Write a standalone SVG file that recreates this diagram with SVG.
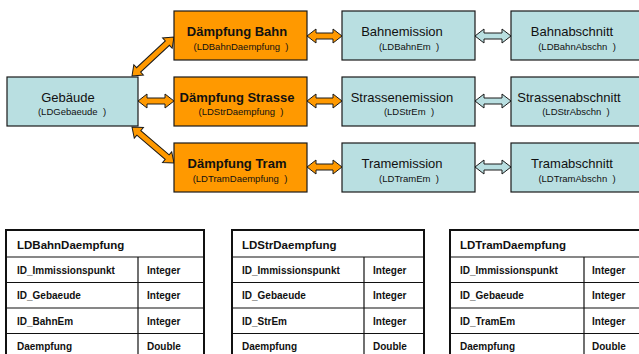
<svg xmlns="http://www.w3.org/2000/svg" width="639" height="354" viewBox="0 0 639 354">
<style>
.bg{fill:#ffffff}
.or{fill:#FF9900;stroke:#1a1a1a;stroke-width:1.2}
.bl{fill:#B9DFE1;stroke:#1a1a1a;stroke-width:1.2}
.t{font-family:"Liberation Sans",Arial,sans-serif;fill:#111;text-anchor:middle;white-space:pre}
.big{font-size:13px}
.bold{font-weight:bold}
.sub{font-size:9.5px}
.ao{fill:#FF9900;stroke:#1a1a1a;stroke-width:1}
.ab{fill:#B9DFE1;stroke:#1a1a1a;stroke-width:1}
.tb{fill:#fff;stroke:#111;stroke-width:2}
.tl{stroke:#111;stroke-width:1.2}
.tt{font-family:"Liberation Sans",Arial,sans-serif;font-weight:bold;font-size:10px;fill:#111}
.th{font-family:"Liberation Sans",Arial,sans-serif;font-weight:bold;font-size:11.5px;fill:#111}
</style>
<defs>
<polygon id="da36" points="0,0 9,-7 9,-3 27,-3 27,-7 36,0 27,7 27,3 9,3 9,7"/>
<polygon id="da35" points="0,0 9,-7 9,-3 26,-3 26,-7 35,0 26,7 26,3 9,3 9,7"/>
</defs>
<rect class="bg" x="0" y="0" width="639" height="354"/>

<g id="connectors">
<polygon class="ao" transform="translate(132,76) rotate(-42.9)" points="0,0 9,-7 9,-3 48.3,-3 48.3,-7 57.3,0 48.3,7 48.3,3 9,3 9,7"/>
<polygon class="ao" transform="translate(132,127) rotate(40.6)" points="0,0 9,-7 9,-3 46.3,-3 46.3,-7 55.3,0 46.3,7 46.3,3 9,3 9,7"/>
<use href="#da36" class="ao" transform="translate(138,101)"/>
<use href="#da35" class="ao" transform="translate(307,36)"/>
<use href="#da35" class="ao" transform="translate(307,101)"/>
<use href="#da35" class="ao" transform="translate(307,167)"/>
<use href="#da36" class="ab" transform="translate(475,36)"/>
<use href="#da36" class="ab" transform="translate(475,101)"/>
<use href="#da36" class="ab" transform="translate(475,167)"/>
</g>

<g id="gebaeude">
<rect class="bl" x="7" y="77" width="131" height="49"/>
<text class="t big" x="68" y="102">Gebäude</text>
<text class="t sub" x="72" y="115">(LDGebaeude  )</text>
</g>

<g id="daempfung-bahn">
<rect class="or" x="174" y="11" width="133" height="49"/>
<text class="t big bold" x="237" y="36">Dämpfung Bahn</text>
<text class="t sub" x="241" y="50">(LDBahnDaempfung  )</text>
</g>
<g id="daempfung-strasse">
<rect class="or" x="174" y="77" width="133" height="49"/>
<text class="t big bold" x="237" y="102">Dämpfung Strasse</text>
<text class="t sub" x="241" y="115">(LDStrDaempfung  )</text>
</g>
<g id="daempfung-tram">
<rect class="or" x="174" y="143" width="133" height="49"/>
<text class="t big bold" x="237" y="168">Dämpfung Tram</text>
<text class="t sub" x="240" y="182">(LDTramDaempfung  )</text>
</g>

<g id="bahnemission">
<rect class="bl" x="342" y="11" width="133" height="49"/>
<text class="t big" x="402" y="36">Bahnemission</text>
<text class="t sub" x="409" y="50">(LDBahnEm  )</text>
</g>
<g id="strassenemission">
<rect class="bl" x="342" y="77" width="133" height="49"/>
<text class="t big" x="402" y="102">Strassenemission</text>
<text class="t sub" x="409" y="115">(LDStrEm  )</text>
</g>
<g id="tramemission">
<rect class="bl" x="342" y="143" width="133" height="49"/>
<text class="t big" x="402" y="168">Tramemission</text>
<text class="t sub" x="409" y="182">(LDTramEm  )</text>
</g>

<g id="bahnabschnitt">
<rect class="bl" x="511" y="11" width="140" height="49"/>
<text class="t big" x="572" y="36">Bahnabschnitt</text>
<text class="t sub" x="577" y="50">(LDBahnAbschn  )</text>
</g>
<g id="strassenabschnitt">
<rect class="bl" x="511" y="77" width="140" height="49"/>
<text class="t big" x="569" y="102">Strassenabschnitt</text>
<text class="t sub" x="576" y="115">(LDStrAbschn  )</text>
</g>
<g id="tramabschnitt">
<rect class="bl" x="511" y="143" width="140" height="49"/>
<text class="t big" x="572" y="168">Tramabschnitt</text>
<text class="t sub" x="577" y="182">(LDTramAbschn  )</text>
</g>

<g id="table-bahn">
<rect class="tb" x="6" y="230" width="198" height="135"/>
<line class="tl" x1="6" y1="257" x2="204" y2="257"/>
<line class="tl" x1="6" y1="282.5" x2="204" y2="282.5"/>
<line class="tl" x1="6" y1="308" x2="204" y2="308"/>
<line class="tl" x1="6" y1="333.5" x2="204" y2="333.5"/>
<line class="tl" x1="138" y1="257" x2="138" y2="365"/>
<text class="th" x="17" y="249">LDBahnDaempfung</text>
<text class="tt" x="17" y="274">ID_Immissionspunkt</text>
<text class="tt" x="147" y="274">Integer</text>
<text class="tt" x="17" y="299">ID_Gebaeude</text>
<text class="tt" x="147" y="299">Integer</text>
<text class="tt" x="17" y="325">ID_BahnEm</text>
<text class="tt" x="147" y="325">Integer</text>
<text class="tt" x="17" y="350">Daempfung</text>
<text class="tt" x="147" y="350">Double</text>
</g>

<g id="table-str">
<rect class="tb" x="232" y="230" width="192" height="135"/>
<line class="tl" x1="232" y1="257" x2="424" y2="257"/>
<line class="tl" x1="232" y1="282.5" x2="424" y2="282.5"/>
<line class="tl" x1="232" y1="308" x2="424" y2="308"/>
<line class="tl" x1="232" y1="333.5" x2="424" y2="333.5"/>
<line class="tl" x1="364" y1="257" x2="364" y2="365"/>
<text class="th" x="242" y="249">LDStrDaempfung</text>
<text class="tt" x="242" y="274">ID_Immissionspunkt</text>
<text class="tt" x="373" y="274">Integer</text>
<text class="tt" x="242" y="299">ID_Gebaeude</text>
<text class="tt" x="373" y="299">Integer</text>
<text class="tt" x="242" y="325">ID_StrEm</text>
<text class="tt" x="373" y="325">Integer</text>
<text class="tt" x="242" y="350">Daempfung</text>
<text class="tt" x="373" y="350">Double</text>
</g>

<g id="table-tram">
<rect class="tb" x="450" y="230" width="200" height="135"/>
<line class="tl" x1="450" y1="257" x2="650" y2="257"/>
<line class="tl" x1="450" y1="282.5" x2="650" y2="282.5"/>
<line class="tl" x1="450" y1="308" x2="650" y2="308"/>
<line class="tl" x1="450" y1="333.5" x2="650" y2="333.5"/>
<line class="tl" x1="584" y1="257" x2="584" y2="365"/>
<text class="th" x="460" y="249">LDTramDaempfung</text>
<text class="tt" x="460" y="274">ID_Immissionspunkt</text>
<text class="tt" x="592" y="274">Integer</text>
<text class="tt" x="460" y="299">ID_Gebaeude</text>
<text class="tt" x="592" y="299">Integer</text>
<text class="tt" x="460" y="325">ID_TramEm</text>
<text class="tt" x="592" y="325">Integer</text>
<text class="tt" x="460" y="350">Daempfung</text>
<text class="tt" x="592" y="350">Double</text>
</g>
</svg>
